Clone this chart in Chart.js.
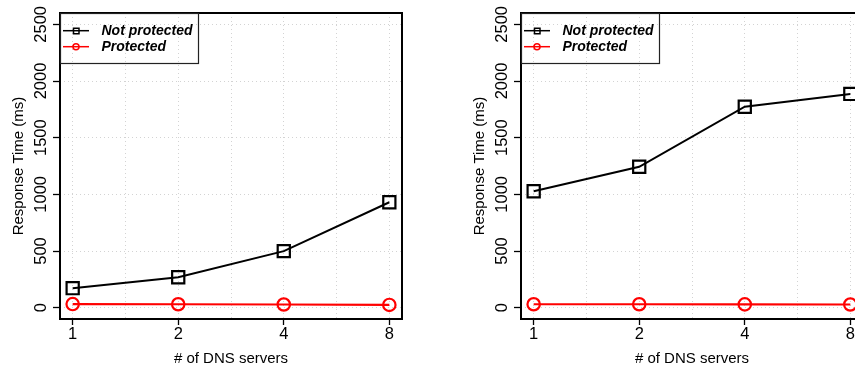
<!DOCTYPE html>
<html><head><meta charset="utf-8">
<script src="https://cdn.jsdelivr.net/npm/chart.js@4/dist/chart.umd.min.js"></script>
<style>
html,body{margin:0;padding:0;width:855px;height:371px;overflow:hidden;background:#fff;}
.panel{position:absolute;top:0;width:430px;height:371px;}
canvas{display:block;}
</style></head><body>
<div class="panel" style="left:0"><canvas id="c1" width="430" height="371"></canvas></div>
<div class="panel" style="left:461px"><canvas id="c2" width="430" height="371"></canvas></div>
<script>
const categories = ['1', '2', '4', '8'];
const seriesNames = ['Not protected', 'Protected'];
const leftNotProtected = [172, 268, 499, 930];
const leftProtected = [32, 30, 28, 24];
const rightNotProtected = [1027, 1243, 1773, 1886];
const rightProtected = [30, 30, 29, 28];
const yTickValues = [0, 500, 1000, 1500, 2000, 2500];
const xGridValues = [1, 1.5, 2, 2.5, 3, 3.5, 4];
const xTitle = '# of DNS servers';
const yTitle = 'Response Time (ms)';

const FONT = "'Liberation Sans', Arial, Helvetica, sans-serif";

const framePlugin = {
  id: 'frame',
  afterDraw(chart) {
    const ctx = chart.ctx, a = chart.chartArea, y = chart.scales.y;
    ctx.save();
    // plot box
    ctx.strokeStyle = '#000';
    ctx.lineWidth = 2;
    ctx.strokeRect(Math.round(a.left), Math.round(a.top),
      Math.round(a.right - a.left), Math.round(a.bottom - a.top));
    // rotated y tick labels
    ctx.fillStyle = '#000';
    ctx.font = '16.5px ' + FONT;
    ctx.textAlign = 'center';
    ctx.textBaseline = 'middle';
    yTickValues.forEach(v => {
      ctx.save();
      ctx.translate(41, y.getPixelForValue(v));
      ctx.rotate(-Math.PI / 2);
      ctx.fillText(String(v), 0, 0);
      ctx.restore();
    });
    // legend
    const lx = Math.round(a.left) + 0.5, ly = Math.round(a.top) + 0.5;
    ctx.strokeStyle = '#222';
    ctx.lineWidth = 1.2;
    ctx.strokeRect(lx, ly, 138, 50);
    chart.data.datasets.forEach((ds, i) => {
      const ry = 30.7 + i * 16;
      ctx.strokeStyle = ds.borderColor;
      ctx.lineWidth = 1.5;
      ctx.beginPath();
      ctx.moveTo(63, ry); ctx.lineTo(89, ry);
      ctx.stroke();
      ctx.beginPath();
      if (ds.pointStyle === 'rect') {
        ctx.rect(73.5, ry - 2.5, 5.5, 5.5);
      } else {
        ctx.arc(76, ry, 3, 0, Math.PI * 2);
      }
      ctx.stroke();
      ctx.fillStyle = '#000';
      ctx.font = 'italic bold 14px ' + FONT;
      ctx.textAlign = 'left';
      ctx.textBaseline = 'middle';
      ctx.fillText(ds.label, 101.5, ry + 0.5);
    });
    ctx.restore();
  }
};

function makeChart(id, notProt, prot) {
  const pts = vals => categories.map((c, i) => ({ x: i + 1, y: vals[i] }));
  return new Chart(document.getElementById(id), {
    type: 'line',
    data: {
      datasets: [
        {
          label: seriesNames[0], data: pts(notProt),
          borderColor: '#000', borderWidth: 2,
          pointStyle: 'rect', pointRadius: 8.6, pointBorderWidth: 2.2,
          pointBackgroundColor: 'rgba(0,0,0,0)', pointBorderColor: '#000',
          tension: 0, fill: false
        },
        {
          label: seriesNames[1], data: pts(prot),
          borderColor: '#ff0000', borderWidth: 2.2,
          pointStyle: 'circle', pointRadius: 6.2, pointBorderWidth: 2.2,
          pointBackgroundColor: 'rgba(0,0,0,0)', pointBorderColor: '#ff0000',
          tension: 0, fill: false
        }
      ]
    },
    options: {
      responsive: false, animation: false, devicePixelRatio: 1,
      layout: { padding: { left: 0, top: 13, right: 28, bottom: 0 } },
      plugins: { legend: { display: false }, tooltip: { enabled: false } },
      scales: {
        x: {
          type: 'linear', min: 0.88, max: 4.12,
          afterBuildTicks: s => { s.ticks = xGridValues.map(v => ({ value: v })); },
          afterFit: s => { s.height = 52; },
          grid: {
            color: '#d3d3d3', lineWidth: 1, drawTicks: true, tickLength: 6, tickWidth: 1.3,
            tickColor: c => (c.tick && Number.isInteger(c.tick.value)) ? '#000' : 'rgba(0,0,0,0)'
          },
          border: { display: false, dash: [1, 3] },
          ticks: {
            autoSkip: false, maxRotation: 0, minRotation: 0, padding: 0, color: '#000',
            font: { family: FONT, size: 16.5 },
            callback: v => Number.isInteger(v) ? categories[v - 1] : ''
          },
          title: { display: true, text: xTitle, color: '#000', font: { family: FONT, size: 15 }, padding: { top: 0, bottom: 3 } }
        },
        y: {
          type: 'linear', min: -100, max: 2600,
          afterBuildTicks: s => { s.ticks = yTickValues.map(v => ({ value: v })); },
          afterFit: s => { s.width = 60; },
          grid: { color: '#d3d3d3', lineWidth: 1, drawTicks: true, tickLength: 7, tickWidth: 1.3, tickColor: '#000' },
          border: { display: false, dash: [1, 3] },
          ticks: { display: false },
          title: { display: true, text: yTitle, color: '#000', font: { family: FONT, size: 15 }, padding: { top: 9.5, bottom: 0 } }
        }
      }
    },
    plugins: [framePlugin]
  });
}

makeChart('c1', leftNotProtected, leftProtected);
makeChart('c2', rightNotProtected, rightProtected);
</script>
</body></html>
